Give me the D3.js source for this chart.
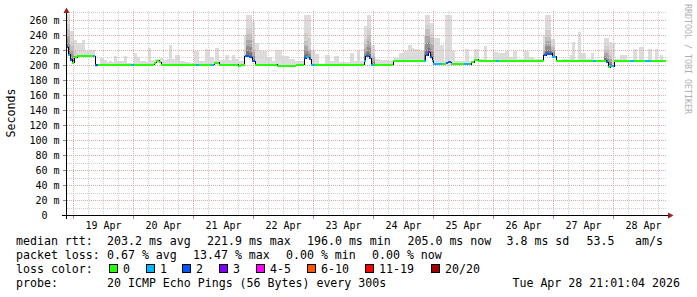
<!DOCTYPE html>
<html><head><meta charset="utf-8">
<script src="https://cdn.jsdelivr.net/npm/d3@7"></script>
<style>html,body{margin:0;padding:0;background:#fff;} svg{display:block;}</style>
</head><body><svg id="c" width="697" height="297"></svg>
<script>
// ---------------- data ----------------
const lossLabels = ["0", "1", "2", "3", "4-5", "6-10", "11-19", "20/20"];
const lossColors = ["#26ff00", "#00b8ff", "#0059ff", "#7e00ff", "#ff00ff", "#ff5500", "#ff0000", "#a10000"];

// median rtt (ms) as steps, hours since start; loss = index into lossColors
const medHours  = [0, 0.8, 1.6, 2.4, 3.2, 4.4, 10.8, 11.6, 12.8, 26, 27.2, 35.2, 36, 37.2, 38, 52, 53.2, 58, 59.2, 61.2,
  68.8, 70, 71.4, 73.2, 74.4, 75.6, 84.4, 92, 95.2, 96, 97.2, 98, 99.6, 119.2, 119.8, 121.2, 122, 123.2, 130.8,
  143.2, 143.8, 144.8, 145.6, 146.4, 146.8, 150.4, 152, 152.8, 154, 159.2, 161.6, 162, 163.2, 164.8, 172, 173.2,
  191, 192, 194.4, 196, 210.8, 212, 216, 216.8, 217.6, 219.2, 225.6, 227.2, 231.6, 234];
const medValues = [224, 214, 207, 203, 210, 212, 212, 199.5, 200.5, 200.5, 200.5, 203, 206, 204, 200.5, 200.5, 200.5, 200.5, 203, 200.5,
  199, 200.5, 212, 210, 205, 200.5, 199, 200.5, 209, 210, 208, 200.5, 200.5, 206, 212, 209, 200.5, 200.5, 206,
  206, 213, 217, 210, 205, 201.5, 201.5, 203, 204, 201, 201, 201, 204, 207, 206, 206, 206,
  213, 215, 211, 206, 206, 206, 204, 197, 198.5, 206, 206, 206, 206, 206];
const medLoss   = [2, 1, 2, 0, 0, 0, 1, 2, 0, 1, 0, 0, 0, 0, 0, 1, 0, 1, 0, 0,
  0, 0, 2, 2, 2, 0, 0, 0, 2, 1, 2, 1, 0, 1, 2, 2, 1, 0, 0,
  1, 2, 3, 2, 1, 1, 0, 2, 2, 0, 1, 0, 0, 0, 0, 1, 0,
  2, 2, 1, 0, 1, 0, 2, 0, 1, 0, 1, 0, 1, 0];

// smoke: max ping (ms) and top of the dense (dark) core, 0 = no dense core
const smokeHours = [0, 1.6, 3.2, 4.4, 6.4, 7.6, 9.2, 11.6, 13.6, 15.2, 16.4, 17.2, 18.4, 19.2, 20.4, 21.6, 23.2, 24.4, 26.4, 27.2,
  28.4, 29.6, 32, 32.8, 34, 35.6, 37.6, 38.8, 40.4, 41.2, 42.4, 43.6, 45.6, 47.6, 49.6, 51.2, 53.2, 55.6, 57.6, 59.2,
  59.6, 61.2, 63.6, 65.2, 66.4, 67.6, 69.2, 71.2, 72, 74.4, 75.6, 77.2, 78.4, 80.4, 82.4, 83.6, 86.4, 89.2, 91.6, 95.2,
  96.8, 98, 99.6, 101.2, 103.6, 105.6, 107.2, 109.2, 113.6, 115.2, 116.4, 117.6, 119.2, 120.4, 122, 123.6, 125.6, 129.2, 131.2, 133.2,
  135.2, 136.8, 138.4, 139.2, 141.2, 143.2, 143.6, 145.6, 147.2, 149.6, 151.2, 151.6, 154.4, 155.6, 159.6, 161.2, 163.2, 165.2, 167.2, 168.4,
  170.8, 172.8, 175.6, 177.2, 178.8, 180.4, 183.2, 185.2, 187.2, 190.8, 191.6, 194, 195.6, 198.4, 201.6, 202.4, 203.6, 204.8, 206, 208,
  210, 211.2, 215.2, 217.2, 218.4, 219.6, 221.6, 224.4, 226.8, 228.4, 229.2, 231.2, 232.8, 234.4, 235.6, 236.8, 237.6, 238.8];
const smokeMax = [268, 245, 233, 229, 233, 219, 220, 201, 209, 207, 204, 206, 204, 212, 205, 206, 212, 203, 202, 216,
  210, 205, 204, 223, 207, 208, 209, 207, 208, 227, 208, 214, 206, 204, 203, 218, 206, 222, 210, 206,
  223, 207, 214, 207, 213, 208, 205, 240, 267, 258, 229, 220, 219, 211, 206, 220, 212, 208, 205, 267,
  267, 220, 215, 201, 214, 205, 212, 204, 216, 205, 218, 205, 252, 267, 227, 208, 207, 205, 209, 216,
  219, 227, 223, 221, 219, 240, 267, 256, 236, 227, 205, 267, 219, 205, 221, 205, 221, 208, 225, 207,
  217, 216, 219, 210, 219, 208, 219, 210, 208, 240, 267, 234, 207, 208, 214, 231, 207, 244, 216, 208,
  216, 207, 236, 231, 230, 208, 213, 207, 222, 207, 224, 207, 221, 207, 221, 207, 213, 207];
const smokeMid = [248, 225, 212, 0, 0, 0, 0, 0, 0, 0, 0, 0, 0, 0, 0, 0, 0, 0, 0, 0,
  0, 0, 0, 0, 0, 0, 0, 0, 0, 0, 0, 0, 0, 0, 0, 0, 0, 0, 0, 0,
  0, 0, 0, 0, 0, 0, 0, 212, 242, 222, 0, 0, 0, 0, 0, 0, 0, 0, 0, 232,
  222, 0, 0, 0, 0, 0, 0, 0, 0, 0, 0, 0, 228, 240, 212, 0, 0, 0, 0, 0,
  0, 0, 0, 0, 0, 225, 248, 236, 0, 0, 0, 0, 0, 0, 0, 0, 0, 0, 0, 0,
  0, 0, 0, 0, 0, 0, 0, 0, 0, 220, 238, 224, 0, 0, 0, 0, 0, 0, 0, 0,
  0, 0, 220, 212, 0, 0, 0, 0, 0, 0, 0, 0, 0, 0, 0, 0, 0, 0];

const yTickValues = [0, 20, 40, 60, 80, 100, 120, 140, 160, 180, 200, 220, 240, 260];
const dayLabels = ["19 Apr", "20 Apr", "21 Apr", "22 Apr", "23 Apr", "24 Apr", "25 Apr", "26 Apr", "27 Apr", "28 Apr"];
const rttStats  = ["203.2 ms avg", "221.9 ms max", "196.0 ms min", "205.0 ms now", "3.8 ms sd", "53.5", "am/s"];
const lossStats = ["0.67 % avg", "13.47 % max", "0.00 % min", "0.00 % now"];
const probeText = "20 ICMP Echo Pings (56 Bytes) every 300s";
const stampText = "Tue Apr 28 21:01:04 2026";

// ---------------- layout ----------------
const FONT = "'DejaVu Sans Mono', monospace";
const svg = d3.select("#c");
svg.append("rect").attr("width", 697).attr("height", 297).attr("fill", "#fff");

const start = new Date(Date.UTC(2026, 3, 18, 21, 1));
const end = new Date(Date.UTC(2026, 3, 28, 21, 1));
const x = d3.scaleUtc().domain([start, end]).range([66, 666]);
const hx = h => x(new Date(start.getTime() + h * 3600e3));
const y = d3.scaleLinear().domain([0, 272]).range([215, 11]);
const px = v => Math.round(v) + 0.5;

// ---- smoke ----
const medianAt = h => medValues[Math.max(0, d3.bisectRight(medHours, h) - 1)];
const bps = Array.from(new Set([...smokeHours, ...medHours, 240])).sort((a, b) => a - b);
const gSmoke = svg.append("g").attr("shape-rendering", "crispEdges");
for (let i = 0; i < bps.length - 1; i++) {
  const h0 = bps[i], h1 = bps[i + 1];
  const si = Math.max(0, d3.bisectRight(smokeHours, h0) - 1);
  const med = medianAt(h0), mx = smokeMax[si], mid = smokeMid[si];
  const x0 = Math.round(hx(h0)), x1 = Math.round(hx(h1));
  if (x1 <= x0) continue;
  const band = (lo, hi, col) => {
    const ya = Math.round(y(hi)), yb = Math.round(y(lo));
    if (yb > ya) gSmoke.append("rect").attr("x", x0).attr("y", ya).attr("width", x1 - x0).attr("height", yb - ya).attr("fill", col);
  };
  band(med - 1.5, mx, "#dcdcdc");
  if (mid > med) {
    const d = mid - med;
    band(mid, mid + (mx - mid) * 0.3, "#d0d0d0");
    band(med + d * 0.72, mid, "#c0c0c0");
    band(med + d * 0.45, med + d * 0.72, "#a8a8a8");
    band(med + d * 0.2, med + d * 0.45, "#8e8e8e");
    band(med, med + d * 0.2, "#727272");
  }
}

// ---- grid ----
const gGrid = svg.append("g").attr("shape-rendering", "crispEdges").attr("stroke-dasharray", "1,1").attr("stroke-width", 1);
const minorY = d3.range(10, 272, 10).filter(v => v % 20 !== 0);
gGrid.selectAll(".hmin").data(minorY).join("line")
  .attr("x1", 67).attr("x2", 666).attr("y1", d => px(y(d))).attr("y2", d => px(y(d))).attr("stroke", "#cfcfcf");
const minorX = d3.utcHour.every(6).range(start, end).filter(d => d.getUTCHours() !== 0);
gGrid.selectAll(".vmin").data(minorX).join("line")
  .attr("x1", d => px(x(d))).attr("x2", d => px(x(d))).attr("y1", 11).attr("y2", 215).attr("stroke", "#cfcfcf");
gGrid.selectAll(".hmaj").data(yTickValues.filter(v => v > 0)).join("line")
  .attr("x1", 67).attr("x2", 666).attr("y1", d => px(y(d))).attr("y2", d => px(y(d))).attr("stroke", "#e6a8a8");
const days = d3.utcDay.range(start, end);
gGrid.selectAll(".vmaj").data(days).join("line")
  .attr("x1", d => px(x(d))).attr("x2", d => px(x(d))).attr("y1", 11).attr("y2", 215).attr("stroke", "#e6a8a8");

// ---- median line ----
const pts = medHours.map((h, i) => [hx(h), y(medValues[i])]);
pts.push([hx(240), y(medValues[medValues.length - 1])]);
svg.append("path").attr("d", d3.line().curve(d3.curveStepAfter)(pts))
  .attr("fill", "none").attr("stroke", "#000").attr("stroke-width", 1).attr("shape-rendering", "crispEdges");
const segs = medHours.map((h, i) => ({ h0: h, h1: i < medHours.length - 1 ? medHours[i + 1] : 240, v: medValues[i], l: medLoss[i] }));
svg.append("g").selectAll("line").data(segs).join("line")
  .attr("x1", d => hx(d.h0)).attr("x2", d => hx(d.h1))
  .attr("y1", d => Math.round(y(d.v))).attr("y2", d => Math.round(y(d.v)))
  .attr("stroke", d => lossColors[d.l]).attr("stroke-width", 2).attr("shape-rendering", "crispEdges");

// ---- axes ----
const gAx = svg.append("g").attr("shape-rendering", "crispEdges");
gAx.selectAll(".ty").data(yTickValues).join("line")
  .attr("x1", 63).attr("x2", 66).attr("y1", d => px(y(d))).attr("y2", d => px(y(d))).attr("stroke", "#888");
gAx.selectAll(".tx").data(days).join("line")
  .attr("x1", d => px(x(d))).attr("x2", d => px(x(d))).attr("y1", 215).attr("y2", 219).attr("stroke", "#d08080");
gAx.append("line").attr("x1", 62).attr("x2", 669).attr("y1", 215.5).attr("y2", 215.5).attr("stroke", "#000");
gAx.append("line").attr("x1", 66.5).attr("x2", 66.5).attr("y1", 219).attr("y2", 12).attr("stroke", "#000");
svg.append("path").attr("d", "M63.5,13L69.5,13L66.5,7.5Z").attr("fill", "#9a1f1f");
svg.append("path").attr("d", "M668,212.5L668,218.5L673.5,215.5Z").attr("fill", "#9a1f1f");

// y labels
svg.append("g").selectAll("text").data(yTickValues).join("text")
  .attr("x", d => d === 0 ? 47.5 : 59.5).attr("y", d => y(d) + 3.5)
  .attr("text-anchor", "end").attr("font-family", FONT).attr("font-size", 10).attr("fill", "#000")
  .text(d => d === 0 ? "0" : d + " m");
// x labels (centered at noon)
svg.append("g").selectAll("text").data(dayLabels).join("text")
  .attr("x", (d, i) => x(new Date(Date.UTC(2026, 3, 19 + i, 12))))
  .attr("y", 228.5).attr("text-anchor", "middle").attr("font-family", FONT).attr("font-size", 10).attr("fill", "#000")
  .text(d => d);

// axis title
svg.append("text").attr("transform", "translate(14.5,113) rotate(-90)").attr("text-anchor", "middle")
  .attr("font-family", FONT).attr("font-size", 11.6).attr("fill", "#000").text("Seconds");
// watermark
svg.append("text").attr("transform", "translate(684.5,59) rotate(90)").attr("text-anchor", "middle")
  .attr("font-family", FONT).attr("font-size", 8.3).attr("fill", "#b0b0b0").text("RRDTOOL / TOBI OETIKER");

// ---- legend ----
const gL = svg.append("g").attr("font-family", FONT).attr("font-size", 11.6).attr("fill", "#000");
const T = (xx, yy, s, anchor) => gL.append("text").attr("x", xx).attr("y", yy).attr("text-anchor", anchor || "start").attr("xml:space", "preserve").text(s);
const rttX = [107, 207, 307, 407.5, 506.5, 586.5, 635];
T(16, 245, "median rtt:");
rttStats.forEach((s, i) => T(rttX[i], 245, s));
const lossX = [107, 193, 286, 372];
T(16, 259, "packet loss:");
lossStats.forEach((s, i) => T(lossX[i], 259, s));
T(16, 273, "loss color:");
const boxX = [109, 146, 182, 219, 256, 307, 365, 431];
lossLabels.forEach((s, i) => {
  gL.append("rect").attr("x", boxX[i] + 0.5).attr("y", 264.5).attr("width", 8).attr("height", 8)
    .attr("fill", lossColors[i]).attr("stroke", "#000").attr("stroke-width", 1).attr("shape-rendering", "crispEdges");
  T(boxX[i] + 14, 273, s);
});
T(16, 286.5, "probe:");
T(107, 286.5, probeText);
T(680, 286.5, stampText, "end");
</script>
</body></html>
